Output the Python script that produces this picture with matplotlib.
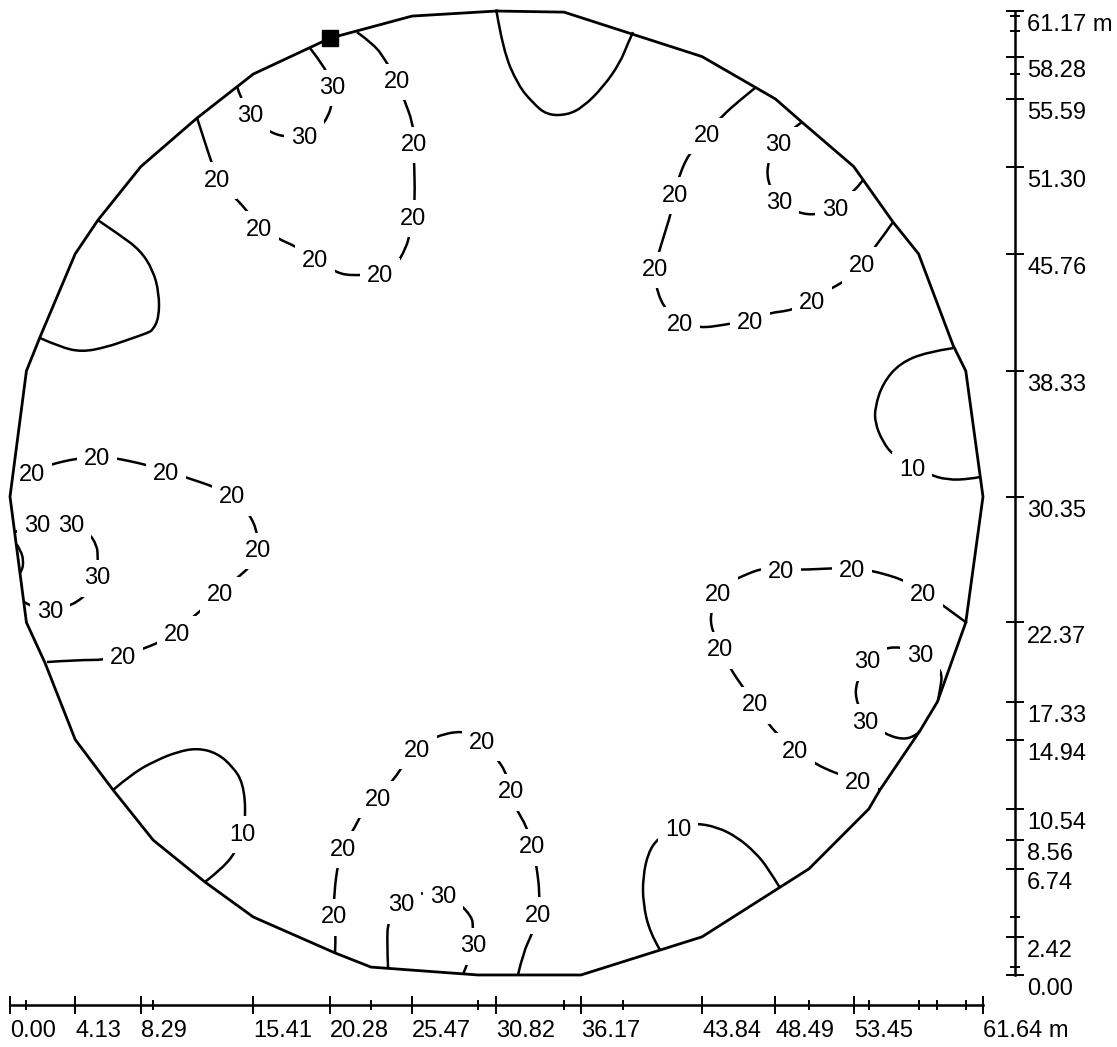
import matplotlib.pyplot as plt
from matplotlib.path import Path
from matplotlib.patches import PathPatch

plt.rcParams['font.family'] = ['Liberation Sans', 'DejaVu Sans']

# room outline, metres
room_x = [30.82, 35.10, 43.84, 48.49, 50.17, 53.45, 55.94, 57.56, 59.74, 60.55,
          61.64, 60.55, 58.75, 57.65, 55.11, 54.41, 50.62, 43.84, 36.17, 29.66,
          22.87, 20.59, 15.41, 12.35, 9.07, 6.53, 4.13, 2.22, 1.04, 0.00,
          1.04, 1.90, 4.13, 5.57, 8.29, 11.85, 15.41, 20.28, 25.47]
room_y = [61.17, 61.10, 58.28, 55.59, 54.12, 51.30, 47.78, 45.76, 39.97, 38.33,
          30.35, 22.37, 17.33, 15.50, 11.74, 10.54, 6.74, 2.42, 0.00, 0.00,
          0.50, 1.40, 3.68, 5.90, 8.56, 11.74, 14.94, 19.80, 22.37, 30.35,
          38.33, 40.48, 45.76, 47.90, 51.30, 54.38, 57.17, 59.45, 60.85]

marker_xy = (20.28, 59.45)

# isolines (m) and label spots on them
line_tl30 = [(19.00, 58.82), (19.95, 57.61), (20.40, 56.47), (20.46, 55.52), (20.15, 54.44),
             (19.64, 53.81), (18.62, 53.30), (17.42, 53.17), (16.47, 53.49), (15.96, 53.87),
             (15.20, 54.69), (14.57, 55.71), (14.38, 56.41)]
lab_tl30 = [(20.40, 56.47), (18.62, 53.30), (15.20, 54.69)]

line_tl20 = [(11.85, 54.38), (12.67, 51.84), (13.11, 50.57), (13.94, 49.62), (14.89, 48.67),
             (15.77, 47.46), (16.91, 46.76), (18.18, 46.19), (19.32, 45.49), (20.46, 44.67),
             (21.54, 44.35), (23.44, 44.54), (24.39, 44.92), (25.09, 46.13), (25.34, 47.08),
             (25.53, 48.16), (25.66, 49.30), (25.59, 51.84), (25.59, 52.85), (25.53, 54.06),
             (24.90, 55.71), (24.52, 56.85), (23.76, 58.06), (23.12, 59.01), (21.98, 59.83)]
lab_tl20 = [(13.11, 50.57), (15.77, 47.46), (19.32, 45.49), (23.44, 44.54), (25.53, 48.16),
            (25.59, 52.85), (24.52, 56.85)]

line_top = [(30.82, 61.17), (31.23, 58.69), (32.18, 56.47), (33.13, 55.33), (34.02, 54.57),
            (35.29, 54.57), (36.30, 55.07), (37.57, 56.34), (38.64, 57.87), (39.15, 59.14),
            (39.47, 59.83)]

line_tr30 = [(50.17, 54.12), (49.73, 53.81), (48.65, 52.85), (48.02, 51.71), (47.96, 50.32),
             (48.72, 49.17), (49.86, 48.35), (51.19, 48.22), (52.26, 48.73), (53.40, 49.62),
             (54.04, 50.44)]
lab_tr30 = [(48.65, 52.85), (48.72, 49.17), (52.26, 48.73)]

line_tr20 = [(47.19, 56.28), (46.25, 55.52), (45.17, 54.57), (44.15, 53.42), (43.08, 52.22),
             (42.44, 50.89), (42.13, 49.62), (41.94, 48.54), (41.18, 46.13), (40.86, 44.92),
             (40.86, 43.91), (41.37, 42.38), (42.44, 41.43), (43.71, 41.05), (45.17, 41.24),
             (46.88, 41.56), (48.02, 42.00), (49.60, 42.19), (50.81, 42.83), (51.82, 43.46),
             (53.02, 44.10), (53.97, 45.18), (54.92, 46.32), (55.94, 47.78)]
lab_tr20 = [(44.15, 53.42), (42.13, 49.62), (40.86, 44.92), (42.44, 41.43), (46.88, 41.56),
            (50.81, 42.83), (53.97, 45.18)]

line_r10 = [(59.74, 39.78), (58.09, 39.53), (56.38, 38.83), (55.30, 37.56), (54.80, 36.04),
            (54.80, 35.02), (55.30, 33.82), (55.94, 32.99), (57.14, 32.23), (58.15, 31.79),
            (59.36, 31.41), (60.82, 31.47), (61.45, 31.60)]
lab_r10 = [(57.14, 32.23)]

line_r20 = [(60.63, 22.33), (58.92, 23.60), (57.84, 24.30), (56.70, 25.06), (54.48, 25.70),
            (53.34, 25.82), (52.39, 25.82), (49.92, 25.70), (48.84, 25.76), (47.64, 25.82),
            (46.25, 25.25), (45.49, 24.87), (44.85, 24.30), (44.47, 23.29), (44.35, 22.21),
            (44.98, 20.75), (45.61, 19.48), (46.37, 18.34), (47.19, 17.26), (47.96, 16.05),
            (48.65, 15.23), (49.73, 14.34), (50.87, 13.45), (52.58, 12.69), (53.72, 12.37),
            (54.67, 11.93), (55.11, 11.74)]
lab_r20 = [(57.84, 24.30), (53.34, 25.82), (48.84, 25.76), (44.85, 24.30), (44.98, 20.75),
           (47.19, 17.26), (49.73, 14.34), (53.72, 12.37)]

line_r30 = [(58.80, 17.45), (58.95, 18.30), (59.05, 19.03), (58.79, 19.54), (57.65, 20.43),
            (56.57, 20.81), (55.30, 20.75), (54.29, 19.99), (53.66, 18.72), (53.53, 17.58),
            (54.16, 16.18), (55.30, 15.35), (56.57, 14.91), (57.46, 15.23), (57.65, 15.50)]
lab_r30 = [(57.65, 20.43), (54.29, 19.99), (54.16, 16.18)]

line_br10 = [(41.18, 1.59), (40.54, 2.66), (40.10, 4.57), (40.10, 6.22), (40.42, 7.74),
             (41.05, 8.69), (42.32, 9.39), (43.39, 9.64), (44.79, 9.39), (46.05, 8.76),
             (47.19, 7.80), (48.02, 6.79), (48.78, 5.52)]
lab_br10 = [(42.32, 9.39)]

line_b20 = [(20.59, 1.40), (20.65, 2.86), (20.53, 3.81), (20.53, 5.20), (20.78, 7.11),
            (21.10, 8.12), (21.86, 9.39), (22.62, 10.91), (23.31, 11.29), (24.39, 12.50),
            (24.90, 13.32), (25.78, 14.40), (26.80, 15.10), (28.70, 15.55), (29.90, 14.91),
            (30.72, 13.90), (31.42, 12.88), (31.74, 11.74), (31.99, 10.66), (32.75, 9.39),
            (33.07, 8.25), (33.32, 7.17), (33.58, 5.08), (33.45, 3.93), (33.13, 2.73),
            (32.50, 1.40), (32.18, 0.00)]
lab_b20 = [(20.53, 3.81), (21.10, 8.12), (23.31, 11.29), (25.78, 14.40), (29.90, 14.91),
           (31.74, 11.74), (33.07, 8.25), (33.45, 3.93)]

line_b30 = [(23.95, 0.44), (23.88, 2.03), (23.95, 3.49), (24.77, 4.57), (25.85, 5.14),
            (26.29, 5.20), (27.43, 5.08), (28.38, 4.63), (29.27, 3.68), (29.33, 3.05),
            (29.33, 1.97), (29.08, 0.95), (28.70, 0.05)]
lab_b30 = [(24.77, 4.57), (27.43, 5.08), (29.33, 1.97)]

line_bl10 = [(6.53, 11.74), (7.79, 12.82), (9.31, 13.64), (10.58, 14.15), (11.85, 14.40),
             (13.11, 14.09), (14.13, 13.20), (14.76, 12.18), (14.95, 10.28), (14.70, 9.07),
             (14.38, 7.93), (13.49, 6.79), (12.35, 5.90)]
lab_bl10 = [(14.70, 9.07)]

line_l20 = [(0.22, 32.04), (1.39, 31.91), (2.41, 32.36), (4.31, 32.80), (5.51, 32.87),
            (6.34, 32.87), (8.74, 32.36), (9.88, 31.98), (10.90, 31.66), (12.99, 30.96),
            (14.06, 30.46), (15.08, 29.38), (15.65, 28.24), (15.71, 27.09), (15.33, 26.01),
            (14.38, 25.19), (13.30, 24.24), (12.35, 23.35), (11.59, 22.72), (10.58, 21.76),
            (9.50, 21.13), (8.24, 20.62), (7.16, 20.30), (6.02, 19.99), (4.31, 19.99),
            (2.34, 19.86)]
lab_l20 = [(1.39, 31.91), (5.51, 32.87), (9.88, 31.98), (14.06, 30.46), (15.71, 27.09),
           (13.30, 24.24), (10.58, 21.76), (7.16, 20.30)]

line_l30 = [(0.32, 28.11), (0.63, 28.24), (1.71, 28.68), (2.79, 28.75), (3.86, 28.68),
            (4.94, 28.11), (5.51, 27.28), (5.57, 26.46), (5.51, 25.32), (4.94, 24.24),
            (4.24, 23.67), (3.67, 23.41), (2.53, 23.22), (1.39, 23.35), (0.90, 23.67)]
lab_l30 = [(1.71, 28.68), (3.86, 28.68), (5.51, 25.32), (2.53, 23.22)]

line_l40 = [(0.38, 27.40), (0.70, 26.90), (0.85, 26.30), (0.78, 25.70), (0.62, 25.50)]

line_tl10 = [(5.57, 47.90), (6.97, 46.95), (8.24, 46.00), (9.06, 44.73), (9.44, 43.27),
             (9.44, 41.75), (9.06, 40.93), (8.68, 40.73), (7.41, 40.29), (6.14, 39.85),
             (4.56, 39.53), (3.17, 39.85), (1.90, 40.42)]

isolines = [
    (line_tl30, lab_tl30, "30"), (line_tl20, lab_tl20, "20"), (line_top, [], ""),
    (line_tr30, lab_tr30, "30"), (line_tr20, lab_tr20, "20"), (line_r10, lab_r10, "10"),
    (line_r20, lab_r20, "20"), (line_r30, lab_r30, "30"), (line_br10, lab_br10, "10"),
    (line_b20, lab_b20, "20"), (line_b30, lab_b30, "30"), (line_bl10, lab_bl10, "10"),
    (line_l20, lab_l20, "20"), (line_l30, lab_l30, "30"), (line_l40, [], ""),
    (line_tl10, [], ""),
]

# scale bars
x_major = [0.00, 4.13, 8.29, 15.41, 20.28, 25.47, 30.82, 36.17, 43.84, 48.49, 53.45, 61.64]
x_minor = [1.04, 9.07, 22.87, 29.66, 35.10, 38.86, 50.62, 54.41, 57.56, 58.75, 60.55]
y_major = [0.00, 2.42, 6.74, 8.56, 10.54, 14.94, 17.33, 22.37, 30.35, 38.33, 45.76,
           51.30, 55.59, 58.28, 61.17]
y_minor = [0.50, 3.68, 57.17, 59.90, 60.85]


def smooth(pts):
    # quadratic bezier through midpoints, read points act as control points
    verts = [pts[0]]
    codes = [Path.MOVETO]
    n = len(pts)
    for i in range(1, n - 1):
        if i == n - 2:
            end = pts[i + 1]
        else:
            end = ((pts[i][0] + pts[i + 1][0]) / 2, (pts[i][1] + pts[i + 1][1]) / 2)
        verts += [pts[i], end]
        codes += [Path.CURVE3, Path.CURVE3]
    return Path(verts, codes)


fig = plt.figure(figsize=(11.17, 10.47), dpi=100)
ax = fig.add_axes([0, 0, 1, 1])
ax.set_xlim(-0.634, 70.13)
ax.set_ylim(-4.57, 61.87)
ax.axis('off')

fs = 17
lw = 1.8

for pts, labs, txt in isolines:
    ax.add_patch(PathPatch(smooth(pts), fill=False, ec='black', lw=lw, zorder=2))
    for lx, ly in labs:
        ax.text(lx, ly, txt, ha='center', va='center_baseline', fontsize=fs, zorder=3,
                bbox=dict(boxstyle='square,pad=0.3', fc='white', ec='none'))

ax.plot(room_x + room_x[:1], room_y + room_y[:1], color='black', lw=2.0,
        solid_joinstyle='miter', zorder=4)
ax.plot([marker_xy[0]], [marker_xy[1]], marker='s', ms=12, color='black', zorder=5)

# bottom scale
bar_y = -1.9
ax.plot([x_major[0], x_major[-1]], [bar_y, bar_y], color='black', lw=lw)
for x in x_major:
    ax.plot([x, x], [bar_y - 0.5, bar_y + 0.5], color='black', lw=1.4)
for x in x_minor:
    ax.plot([x, x], [bar_y - 0.25, bar_y + 0.25], color='black', lw=1.4)
for i, x in enumerate(x_major):
    s = f"{x:.2f}" + (" m" if i == len(x_major) - 1 else "")
    ax.text(x, bar_y - 0.95, s, ha='left', va='top', fontsize=fs)

# right scale
bar_x = 63.67
ax.plot([bar_x, bar_x], [y_major[0], y_major[-1]], color='black', lw=lw)
for y in y_major:
    ax.plot([bar_x - 0.5, bar_x + 0.5], [y, y], color='black', lw=1.4)
for y in y_minor:
    ax.plot([bar_x - 0.25, bar_x + 0.25], [y, y], color='black', lw=1.4)
for i, y in enumerate(y_major):
    s = f"{y:.2f}" + (" m" if i == len(y_major) - 1 else "")
    ax.text(bar_x + 0.76, y - 0.2, s, ha='left', va='top', fontsize=fs)

fig.savefig("out.png", dpi=100)
